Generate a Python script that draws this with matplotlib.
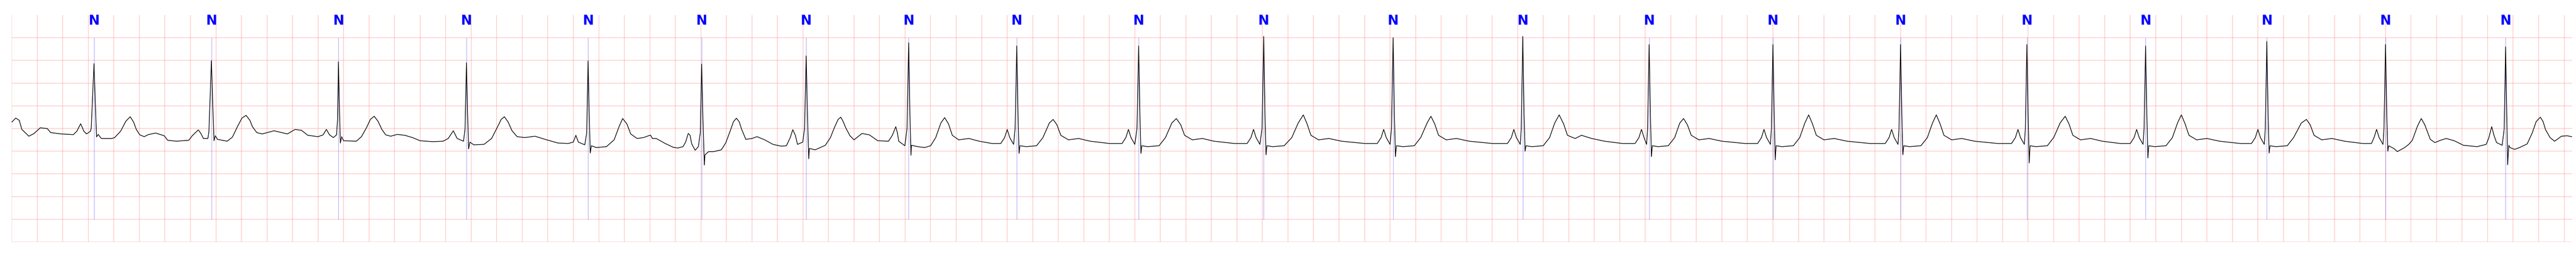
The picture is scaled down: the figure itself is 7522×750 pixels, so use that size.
import matplotlib
matplotlib.use("Agg")
import matplotlib.pyplot as plt
import numpy as np

# beat annotations (seconds) and their symbols
beat_t = [0.645, 1.565, 2.56, 3.563, 4.516, 5.406, 6.225, 7.028, 7.875, 8.83,
          9.81, 10.824, 11.84, 12.83, 13.80, 14.80, 15.79, 16.72, 17.67, 18.60, 19.541]
beat_sym = ['N'] * len(beat_t)

trace_t = [
    0.0, 0.031, 0.059, 0.079, 0.134, 0.175, 0.223, 0.278, 0.305, 0.387, 0.483, 0.51, 0.54, 0.565, 0.586, 0.617, 0.623,
    0.6446, 0.658, 0.665, 0.677, 0.702, 0.784, 0.806, 0.853, 0.894, 0.928, 0.955, 0.976, 1.003, 1.038, 1.07, 1.127,
    1.195, 1.222, 1.291, 1.387, 1.414, 1.462, 1.482, 1.502, 1.537, 1.545,
    1.5645, 1.5755, 1.585, 1.595, 1.6125, 1.688, 1.729, 1.770, 1.804, 1.836, 1.866, 1.886, 1.92, 1.962, 2.055,
    2.10, 2.16, 2.22, 2.27, 2.32, 2.40, 2.44, 2.465, 2.49, 2.52, 2.545, 2.553,
    2.56, 2.568, 2.575, 2.585, 2.60, 2.70, 2.74, 2.78, 2.81, 2.84, 2.87, 2.90, 2.93, 2.97, 3.02, 3.08, 3.14, 3.20, 3.30,
    3.38, 3.42, 3.46, 3.49, 3.54, 3.552,
    3.563, 3.572, 3.58, 3.59, 3.62, 3.70, 3.76, 3.80, 3.835, 3.86, 3.89, 3.92, 3.96, 4.02, 4.10, 4.18, 4.28, 4.36,
    4.40, 4.42, 4.44, 4.49, 4.505,
    4.516, 4.525, 4.533, 4.542, 4.58, 4.66, 4.72, 4.76, 4.787, 4.82, 4.85, 4.90, 4.95, 5.0,
    5.006, 5.02, 5.05, 5.12, 5.184, 5.22, 5.26, 5.28, 5.301, 5.315, 5.328, 5.355, 5.38, 5.395,
    5.406, 5.416, 5.427, 5.432, 5.46, 5.50, 5.56, 5.595, 5.63, 5.655, 5.678, 5.70, 5.718, 5.752, 5.80, 5.84, 5.90,
    5.965, 6.03, 6.07, 6.10, 6.12, 6.14, 6.157, 6.198, 6.212,
    6.225, 6.235, 6.245, 6.25, 6.295, 6.375, 6.415, 6.445, 6.475, 6.496, 6.515, 6.535, 6.568, 6.60, 6.662, 6.72,
    6.786, 6.87, 6.90, 6.927, 6.94, 6.95, 6.998, 7.015,
    7.028, 7.038, 7.046, 7.05, 7.10, 7.153, 7.20, 7.24, 7.28, 7.31, 7.34, 7.37, 7.42, 7.50, 7.58, 7.68, 7.75, 7.78,
    7.80, 7.82, 7.85, 7.862,
    7.875, 7.885, 7.893, 7.90, 7.95, 8.03, 8.08, 8.13, 8.16, 8.19, 8.22, 8.28, 8.36, 8.45, 8.60, 8.70, 8.73, 8.75,
    8.77, 8.80, 8.817,
    8.83, 8.84, 8.848, 8.855, 8.90, 8.99, 9.04, 9.09, 9.125, 9.16, 9.19, 9.25, 9.33, 9.42, 9.58, 9.68, 9.71, 9.73,
    9.75, 9.78, 9.797,
    9.81, 9.82, 9.828, 9.835, 9.88, 9.97, 10.03, 10.08, 10.12, 10.15, 10.18, 10.24, 10.32, 10.42, 10.60, 10.70,
    10.73, 10.75, 10.77, 10.80, 10.811,
    10.824, 10.834, 10.842, 10.85, 10.90, 10.99, 11.04, 11.09, 11.12, 11.15, 11.18, 11.24, 11.32, 11.42, 11.60,
    11.72, 11.75, 11.77, 11.79, 11.82, 11.828,
    11.84, 11.85, 11.858, 11.865, 11.91, 12.0, 12.05, 12.09, 12.125, 12.16, 12.19, 12.25, 12.30, 12.38, 12.48,
    12.62, 12.72, 12.75, 12.77, 12.79, 12.81, 12.818,
    12.83, 12.84, 12.848, 12.855, 12.90, 12.98, 13.03, 13.07, 13.10, 13.13, 13.16, 13.22, 13.30, 13.40, 13.58,
    13.68, 13.71, 13.73, 13.75, 13.78, 13.788,
    13.80, 13.81, 13.818, 13.825, 13.87, 13.96, 14.01, 14.05, 14.08, 14.11, 14.14, 14.20, 14.28, 14.38, 14.56,
    14.68, 14.71, 14.73, 14.75, 14.78, 14.788,
    14.80, 14.81, 14.818, 14.825, 14.87, 14.96, 15.01, 15.05, 15.08, 15.11, 15.14, 15.20, 15.28, 15.38, 15.56,
    15.67, 15.70, 15.72, 15.74, 15.77, 15.778,
    15.79, 15.80, 15.808, 15.815, 15.86, 15.95, 16.0, 16.05, 16.09, 16.12, 16.15, 16.21, 16.29, 16.38, 16.52,
    16.60, 16.63, 16.65, 16.67, 16.70, 16.708,
    16.72, 16.73, 16.738, 16.745, 16.79, 16.88, 16.93, 16.97, 17.0, 17.03, 17.06, 17.12, 17.20, 17.30, 17.46,
    17.55, 17.58, 17.60, 17.62, 17.65, 17.658,
    17.67, 17.68, 17.688, 17.695, 17.74, 17.83, 17.88, 17.94, 17.98, 18.01, 18.04, 18.10, 18.18, 18.28, 18.42,
    18.49, 18.51, 18.53, 18.55, 18.58, 18.588,
    18.60, 18.61, 18.618, 18.625, 18.67, 18.692, 18.75, 18.782, 18.81, 18.85, 18.88, 18.907, 18.951, 18.987,
    19.03, 19.076, 19.139, 19.21, 19.317, 19.389, 19.41, 19.432, 19.45, 19.47, 19.514, 19.53,
    19.541, 19.55, 19.557, 19.566, 19.575, 19.612, 19.65, 19.71, 19.75, 19.78, 19.813, 19.835, 19.853, 19.889,
    19.925, 19.979, 20.023, 20.058,
]
trace_v = [
    0.14, 0.23, 0.18, -0.02, -0.17, -0.11, 0.015, 0.0, -0.09, -0.12, -0.135, -0.06, 0.105, -0.06, -0.12, -0.06, 0.015,
    1.43, 0.30, -0.185, -0.13, -0.22, -0.22, -0.2, -0.06, 0.16, 0.26, 0.14, -0.02, -0.14, -0.18, -0.135, -0.10,
    -0.16, -0.26, -0.28, -0.26, -0.16, -0.03, -0.11, -0.22, -0.22, -0.06,
    1.495, 0.48, -0.27, -0.16, -0.24, -0.28, -0.19, 0.05, 0.23, 0.29, 0.18, 0.04, -0.09, -0.12, -0.05,
    -0.08, -0.12, -0.02, -0.04, -0.15, -0.18, -0.14, -0.02, -0.14, -0.20, -0.14, 0.2,
    1.47, 0.4, -0.32, -0.18, -0.27, -0.28, -0.18, 0.02, 0.2, 0.27, 0.16, -0.02, -0.14, -0.17, -0.13, -0.15, -0.20,
    -0.27, -0.29,
    -0.28, -0.22, -0.05, -0.22, -0.28, 0.0,
    1.45, 0.3, -0.45, -0.30, -0.36, -0.35, -0.22, 0.0, 0.2, 0.26, 0.14, -0.05, -0.18, -0.2, -0.17, -0.24, -0.32, -0.33,
    -0.30, -0.15, -0.30, -0.36, -0.1,
    1.49, 0.3, -0.54, -0.38, -0.42, -0.40, -0.25, 0.05, 0.22, 0.1, -0.12, -0.22, -0.2, -0.15,
    -0.15, -0.22, -0.22, -0.33, -0.415, -0.43, -0.40, -0.30, -0.108, -0.15, -0.34, -0.48, -0.40, -0.1,
    1.42, 0.2, -0.805, -0.58, -0.51, -0.51, -0.47, -0.315, -0.05, 0.15, 0.226, 0.15, -0.01, -0.24, -0.22, -0.18, -0.25,
    -0.35, -0.39, -0.38, -0.2, -0.025, -0.15, -0.35, -0.3, 0.0,
    1.60, 0.3, -0.667, -0.44, -0.47, -0.37, -0.2, 0.014, 0.2, 0.25, 0.15, 0.014, -0.16, -0.25, -0.11, -0.14,
    -0.27, -0.28, -0.15, 0.04, -0.1, -0.28, -0.38, 0.0,
    1.89, 0.3, -0.59, -0.37, -0.40, -0.42, -0.38, -0.2, 0.12, 0.24, 0.1, -0.15, -0.25, -0.22, -0.28, -0.33, -0.33, -0.2,
    -0.02, -0.2, -0.35, 0.0,
    1.82, 0.3, -0.55, -0.38, -0.40, -0.38, -0.2, 0.12, 0.2, 0.08, -0.15, -0.25, -0.22, -0.28, -0.33, -0.33, -0.2, -0.02,
    -0.2, -0.35, 0.0,
    1.82, 0.3, -0.55, -0.38, -0.40, -0.38, -0.2, 0.12, 0.22, 0.08, -0.15, -0.25, -0.22, -0.28, -0.33, -0.33, -0.2, -0.02,
    -0.2, -0.35, 0.0,
    2.03, 0.3, -0.58, -0.38, -0.40, -0.38, -0.2, 0.12, 0.30, 0.1, -0.15, -0.25, -0.22, -0.28, -0.33, -0.33,
    -0.2, -0.02, -0.2, -0.35, 0.0,
    2.0, 0.3, -0.62, -0.38, -0.40, -0.38, -0.2, 0.12, 0.27, 0.1, -0.15, -0.25, -0.22, -0.28, -0.33,
    -0.33, -0.2, -0.02, -0.2, -0.35, 0.0,
    2.03, 0.3, -0.5, -0.38, -0.40, -0.38, -0.2, 0.12, 0.30, 0.1, -0.15, -0.22, -0.15, -0.22, -0.28,
    -0.33, -0.33, -0.2, -0.02, -0.2, -0.35, 0.0,
    1.85, 0.3, -0.62, -0.38, -0.40, -0.38, -0.2, 0.12, 0.22, 0.08, -0.15, -0.25, -0.22, -0.28, -0.33,
    -0.33, -0.2, -0.02, -0.2, -0.35, 0.0,
    1.85, 0.3, -0.69, -0.38, -0.40, -0.38, -0.2, 0.12, 0.30, 0.1, -0.15, -0.25, -0.22, -0.28, -0.33,
    -0.33, -0.2, -0.02, -0.2, -0.35, 0.0,
    1.85, 0.3, -0.58, -0.38, -0.40, -0.38, -0.2, 0.12, 0.30, 0.1, -0.15, -0.25, -0.22, -0.28, -0.33,
    -0.33, -0.2, -0.02, -0.2, -0.35, 0.0,
    1.85, 0.3, -0.76, -0.38, -0.40, -0.38, -0.2, 0.12, 0.27, 0.1, -0.15, -0.25, -0.22, -0.28, -0.33,
    -0.33, -0.2, -0.02, -0.2, -0.35, 0.0,
    1.82, 0.3, -0.65, -0.38, -0.40, -0.38, -0.2, 0.12, 0.30, 0.1, -0.15, -0.25, -0.22, -0.28, -0.33,
    -0.33, -0.2, -0.02, -0.2, -0.35, 0.0,
    1.92, 0.3, -0.54, -0.38, -0.40, -0.38, -0.2, 0.12, 0.20, 0.08, -0.15, -0.25, -0.22, -0.28, -0.33,
    -0.33, -0.2, -0.02, -0.2, -0.35, 0.0,
    1.85, 0.3, -0.5, -0.38, -0.45, -0.51, -0.42, -0.35, -0.26, 0.05, 0.22, 0.086, -0.24, -0.31,
    -0.26, -0.22, -0.27, -0.37, -0.40, -0.35, -0.2, 0.04, -0.15, -0.31, -0.37, 0.0,
    1.80, 0.3, -0.80, -0.37, -0.42, -0.46, -0.42, -0.34, -0.095, 0.15, 0.25, 0.15, -0.02, -0.2,
    -0.28, -0.17, -0.16, -0.18,
]

fig = plt.figure(figsize=(75.22, 7.5), dpi=100)
ax = fig.add_axes([34.3 / 7522, 44 / 750, (7511 - 34.3) / 7522, 662 / 750])

# ECG paper grid: 0.2 s x 0.5 mV
for x in np.arange(0, 20.01, 0.2):
    ax.axvline(x, color='red', alpha=0.25, lw=1.2, zorder=0)
for y in np.arange(-2.5, 2.01, 0.5):
    ax.axhline(y, color='red', alpha=0.25, lw=1.2, zorder=0)

ax.plot(trace_t, trace_v, color='black', lw=1.4, zorder=3)

for tb, s in zip(beat_t, beat_sym):
    ax.vlines(tb, -2.0, 2.0, color='blue', alpha=0.5, lw=0.7, zorder=2)
    ax.text(tb, 2.29, s, color='blue', fontsize=28, fontweight='bold',
            ha='center', va='baseline', family=['Liberation Sans Narrow', 'DejaVu Sans'])

ax.set_xlim(0, 20.063)
ax.set_ylim(-2.5, 2.5)
ax.axis('off')

fig.savefig('out.png', dpi=100)
